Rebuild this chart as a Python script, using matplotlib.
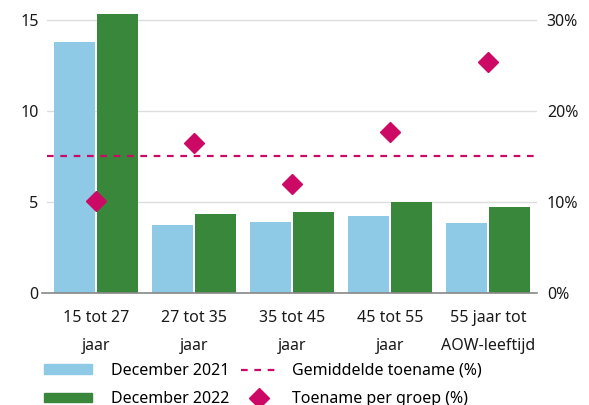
import matplotlib.pyplot as plt
import numpy as np
from matplotlib.lines import Line2D
from matplotlib.patches import Patch

plt.rcParams['font.family'] = ['Noto Sans', 'DejaVu Sans']

categories = ['15 tot 27\njaar', '27 tot 35\njaar', '35 tot 45\njaar', '45 tot 55\njaar', '55 jaar tot\nAOW-leeftijd']
dec_2021 = [13.8, 3.72, 3.89, 4.22, 3.83]
dec_2022 = [15.3, 4.33, 4.44, 5.0, 4.72]
toename = [10.1, 16.5, 12.0, 17.7, 25.4]
gemiddeld = 15.0

blue = '#8ecae6'
green = '#39873a'
magenta = '#cc0a66'

fig = plt.figure(figsize=(5.89, 4.05), dpi=100)
ax = fig.add_axes([0.0798, 0.2765, 0.832, 0.688])
ax2 = ax.twinx()

x = np.arange(len(categories))
ax.bar(x - 0.22, dec_2021, width=0.42, color=blue, zorder=2)
ax.bar(x + 0.22, dec_2022, width=0.42, color=green, zorder=2)

ax.set_xlim(-0.5, 4.5)
ax.set_ylim(0, 15.3)
ax.set_yticks([0, 5, 10, 15])
ax.grid(axis='y', color='#dddddd', linewidth=1, zorder=0)
ax.axhline(0, color='#888888', linewidth=1.2, zorder=3, clip_on=False, xmin=-0.01)

ax2.set_ylim(0, 30.6)
ax2.set_yticks([0, 10, 20, 30])
ax2.set_yticklabels(['0%', '10%', '20%', '30%'])
ax2.axhline(gemiddeld, color=magenta, linestyle=(0, (3, 3)), linewidth=1.6)
ax2.plot(x, toename, linestyle='none', marker='D', markersize=10, color=magenta)

ax.set_xticks(x)
ax.set_xticklabels(categories, linespacing=2.0)

for a in (ax, ax2):
    for s in a.spines.values():
        s.set_visible(False)
    a.tick_params(length=0, labelsize=11.5, colors='#1a1a1a')
ax.tick_params(axis='x', pad=12)
ax.tick_params(axis='y', pad=6)
ax2.tick_params(axis='y', pad=7)

# legend: bars on the left, lines/markers on the right
bar_handles = [Patch(color=blue), Patch(color=green)]
leg1 = fig.legend(bar_handles, ['December 2021', 'December 2022'], loc='upper left',
                  bbox_to_anchor=(0.05, 0.14), frameon=False, fontsize=11.5,
                  handlelength=3.0, handleheight=0.5, labelspacing=0.8, handletextpad=1.2)
line_handles = [
    Line2D([], [], color=magenta, linestyle=(0, (3, 3)), linewidth=1.6),
    Line2D([], [], color=magenta, linestyle='none', marker='D', markersize=10),
]
fig.legend(line_handles, ['Gemiddelde toename (%)', 'Toename per groep (%)'], loc='upper left',
           bbox_to_anchor=(0.385, 0.14), frameon=False, fontsize=11.5,
           handlelength=2.2, handleheight=0.5, labelspacing=0.8, handletextpad=1.0)

fig.savefig('out.png', dpi=100)
